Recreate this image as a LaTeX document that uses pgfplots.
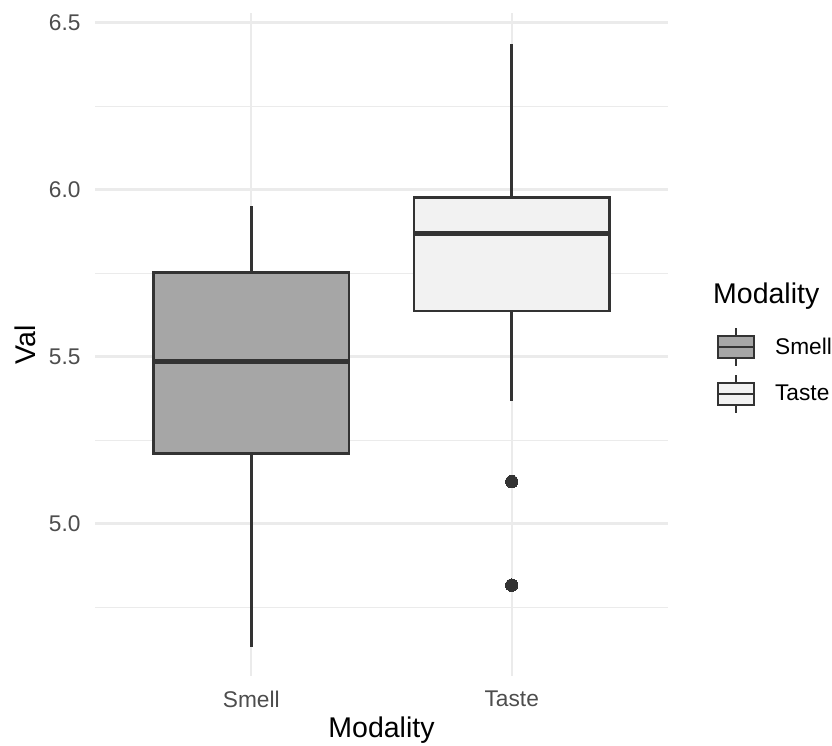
\documentclass[border=0pt]{standalone}
\usepackage{fontspec}
\setmainfont{Liberation Sans}
\usepackage{pgfplots}
\pgfplotsset{compat=1.18}
\definecolor{gridc}{HTML}{EBEBEB}
\definecolor{boxc}{HTML}{333333}
\definecolor{smellc}{HTML}{A6A6A6}
\definecolor{tastec}{HTML}{F2F2F2}
\definecolor{tickc}{HTML}{4D4D4D}
\begin{document}
\begin{tikzpicture}[x=1pt,y=1pt]
\path[use as bounding box] (0,0) rectangle (832,745);
\begin{axis}[
  at={(95pt,69pt)}, anchor=south west,
  scale only axis, width=573pt, height=663pt,
  xmin=0.4, xmax=2.6, ymin=4.544, ymax=6.529,
  xtick={1,2}, xticklabels={Smell,Taste},
  ytick={5,5.5,6,6.5}, minor ytick={4.75,5.25,5.75,6.25},
  yticklabel style={/pgf/number format/fixed, /pgf/number format/precision=1, /pgf/number format/fixed zerofill, inner sep=0pt, xshift=-14.3pt},
  xticklabel style={inner sep=0pt, yshift=-14.7pt},
  /pgf/number format/assume math mode=true,
  tick label style={font=\fontsize{22.7}{27}\selectfont, text=tickc},
  axis line style={draw=none},
  major tick length=0pt, minor tick length=0pt,
  xmajorgrids, ymajorgrids, yminorgrids,
  major grid style={gridc, line width=2.4pt},
  minor grid style={gridc, line width=1.3pt},
  xlabel={Modality}, ylabel={Val},
  label style={font=\fontsize{28.5}{34}\selectfont, text=black, inner sep=0pt},
  xlabel style={at={(axis description cs:0.5,-0.0935)}, anchor=base},
  ylabel style={at={(axis description cs:-0.103,0.5)}, anchor=base, rotate=0},
  legend style={at={(axis description cs:1.085,0.5269)}, anchor=north west,
    draw=none, fill=none, inner sep=0pt, outer sep=0pt, row sep=6.5pt, column sep=20pt,
    nodes={inner sep=0pt}, font=\fontsize{22.7}{27}\selectfont},
  legend cell align=left,
  legend image code/.code={
    \draw[draw=boxc, line width=2.4pt] (18pt,-19pt) -- (18pt,19pt);
    \draw[draw=boxc, line width=2.4pt, #1] (0pt,-11pt) rectangle (36pt,11pt);
    \draw[draw=boxc, line width=2.4pt] (0pt,0pt) -- (36pt,0pt);
  },
]
% Smell: whiskers, box, median
\addplot[forget plot, draw=boxc, line width=2.7pt] coordinates {(1,5.752) (1,5.952)};
\addplot[forget plot, draw=boxc, line width=2.7pt] coordinates {(1,4.632) (1,5.211)};
\addplot[forget plot, draw=boxc, fill=smellc, line width=2.7pt, line join=miter]
  coordinates {(0.625,5.211) (1.375,5.211) (1.375,5.752) (0.625,5.752)} -- cycle;
\addplot[forget plot, draw=boxc, line width=5.5pt] coordinates {(0.625,5.486) (1.375,5.486)};
% Taste: whiskers, box, median
\addplot[forget plot, draw=boxc, line width=2.7pt] coordinates {(2,5.977) (2,6.435)};
\addplot[forget plot, draw=boxc, line width=2.7pt] coordinates {(2,5.368) (2,5.637)};
\addplot[forget plot, draw=boxc, fill=tastec, line width=2.7pt, line join=miter]
  coordinates {(1.625,5.637) (2.375,5.637) (2.375,5.977) (1.625,5.977)} -- cycle;
\addplot[forget plot, draw=boxc, line width=5.5pt] coordinates {(1.625,5.869) (2.375,5.869)};
% Taste outliers
\addplot[forget plot, only marks, mark=*, mark size=6.2pt, color=boxc,
  mark options={line width=0pt}] coordinates {(2,5.126) (2,4.816)};
\addlegendimage{fill=smellc}
\addlegendentry{Smell}
\addlegendimage{fill=tastec}
\addlegendentry{Taste}
\end{axis}
\node[anchor=base west, inner sep=0pt, font=\fontsize{28.5}{34}\selectfont] at (713,441) {Modality};
\end{tikzpicture}
\end{document}
